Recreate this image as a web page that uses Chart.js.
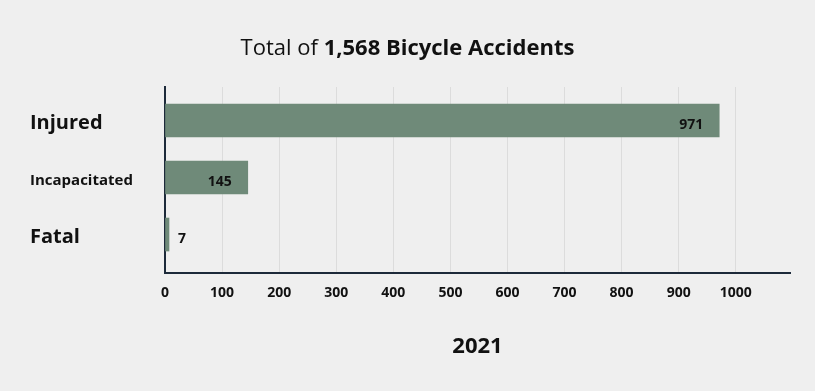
<!DOCTYPE html>
<html>
<head>
<meta charset="utf-8">
<script src="https://cdn.jsdelivr.net/npm/chart.js@4/dist/chart.umd.min.js"></script>
<style>
  html, body { margin: 0; padding: 0; background: #efefef; }
  #wrap { position: relative; width: 815px; height: 391px; background: #efefef; }
  #title { position: absolute; left: 0; top: 31px; width: 815px; text-align: center; line-height: 30px;
           font-family: "Open Sans", sans-serif; font-size: 22px; color: #111; }
  #title b { font-weight: 700; }
  canvas { position: absolute; left: 0; top: 0; }
</style>
</head>
<body>
<div id="wrap">
  <canvas id="c" width="815" height="391"></canvas>
  <div id="title">Total of <b>1,568 Bicycle Accidents</b></div>
</div>
<script>
const categories = ["Injured", "Incapacitated", "Fatal"];
const values2021 = [971, 145, 7];
const seriesName = "2021";
const xTicks = [0, 100, 200, 300, 400, 500, 600, 700, 800, 900, 1000];

const barColor = "#6f8a79";
const textColor = "#111111";
const axisColor = "#1d2a3a";
const FONT = "'Open Sans', sans-serif";

const valueLabels = {
  id: "valueLabels",
  afterDatasetsDraw(chart) {
    const ctx = chart.ctx;
    const meta = chart.getDatasetMeta(0);
    ctx.save();
    ctx.font = "bold 14px " + FONT;
    ctx.fillStyle = textColor;
    ctx.textBaseline = "middle";
    meta.data.forEach((bar, i) => {
      const v = values2021[i];
      const w = bar.x - bar.base;
      if (w > 40) {
        ctx.textAlign = "right";
        ctx.fillText(String(v), bar.x - 16, bar.y + 4);
      } else {
        ctx.textAlign = "left";
        ctx.fillText(String(v), bar.x + 9, bar.y + 4);
      }
    });
    ctx.restore();
  }
};

new Chart(document.getElementById("c"), {
  type: "bar",
  data: {
    datasets: [{
      label: seriesName,
      data: values2021.map((v, i) => ({ x: v, y: i })),
      backgroundColor: barColor,
      borderWidth: 0,
      barThickness: 33
    }]
  },
  plugins: [valueLabels],
  options: {
    indexAxis: "y",
    responsive: false,
    animation: false,
    layout: { padding: { left: 30, right: 25, top: 87, bottom: 0 } },
    plugins: { legend: { display: false }, tooltip: { enabled: false }, title: { display: false } },
    scales: {
      x: {
        type: "linear",
        min: 0,
        max: 1095,
        offset: false,
        afterBuildTicks(scale) { scale.ticks = xTicks.map(v => ({ value: v })); },
        afterFit(scale) { scale.height = 118; },
        ticks: {
          padding: 12,
          color: textColor,
          font: { family: FONT, size: 14, weight: "bold" },
          callback: (v) => String(v),
          maxRotation: 0,
          autoSkip: false
        },
        grid: { color: "#dcdcdc", drawTicks: false, lineWidth: 1, offset: false },
        border: { color: axisColor, width: 2 },
        title: {
          display: true,
          text: seriesName,
          color: textColor,
          font: { family: FONT, size: 22, weight: "bold" },
          padding: { top: 0, bottom: 31 }
        }
      },
      y: {
        type: "linear",
        reverse: true,
        offset: false,
        min: -0.588,
        max: 2.675,
        afterBuildTicks(scale) { scale.ticks = categories.map((c, i) => ({ value: i })); },
        afterFit(scale) { scale.width = 135; },
        ticks: {
          crossAlign: "far",
          padding: 0,
          labelOffset: 3,
          autoSkip: false,
          color: textColor,
          callback: (v) => categories[v],
          font: (c) => ({ family: FONT, size: c.index === 1 ? 15 : 20, weight: "bold" })
        },
        grid: { display: false, drawTicks: false, offset: false },
        border: { color: axisColor, width: 2 }
      }
    }
  }
});
</script>
</body>
</html>
